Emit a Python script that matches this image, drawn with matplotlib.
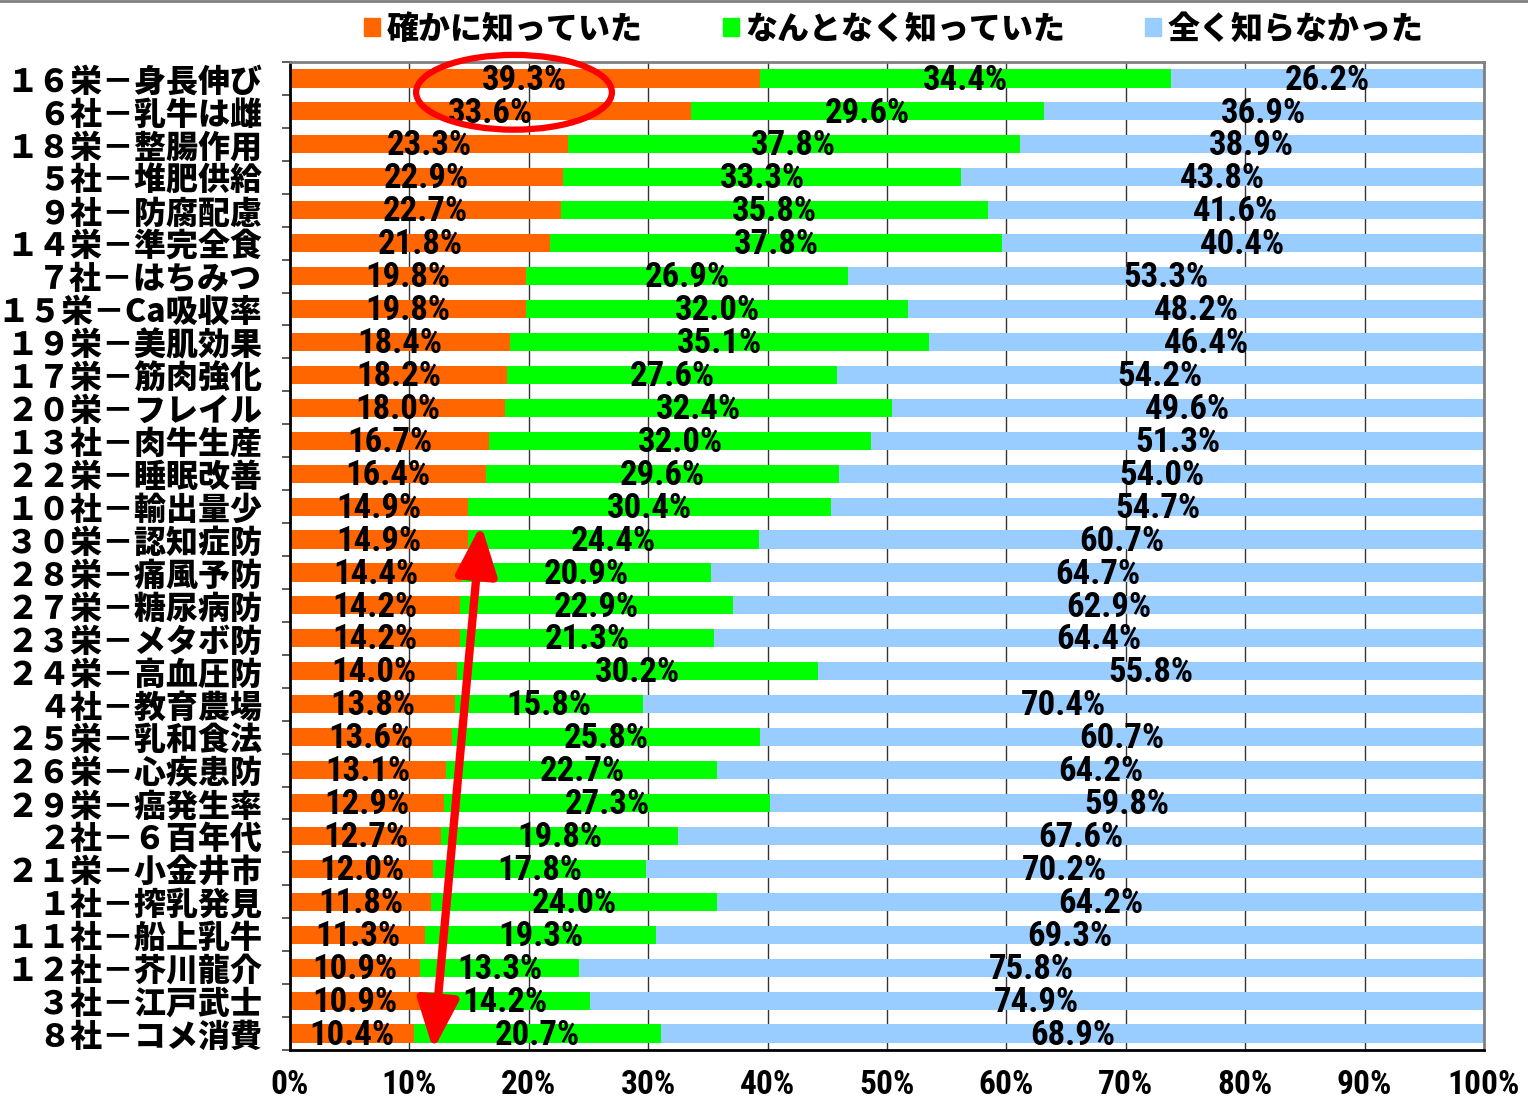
import matplotlib
matplotlib.use("Agg")
import matplotlib.pyplot as plt
from matplotlib import font_manager
from matplotlib.patches import Ellipse, Patch
import numpy as np

plt.rcParams["font.family"] = ["Noto Sans CJK JP", "DejaVu Sans"]

# survey items (top to bottom)
items = [
    "１６栄－身長伸び", "６社－乳牛は雌", "１８栄－整腸作用", "５社－堆肥供給",
    "９社－防腐配慮", "１４栄－準完全食", "７社－はちみつ", "１５栄－Ca吸収率",
    "１９栄－美肌効果", "１７栄－筋肉強化", "２０栄－フレイル", "１３社－肉牛生産",
    "２２栄－睡眠改善", "１０社－輸出量少", "３０栄－認知症防", "２８栄－痛風予防",
    "２７栄－糖尿病防", "２３栄－メタボ防", "２４栄－高血圧防", "４社－教育農場",
    "２５栄－乳和食法", "２６栄－心疾患防", "２９栄－癌発生率", "２社－６百年代",
    "２１栄－小金井市", "１社－搾乳発見", "１１社－船上乳牛", "１２社－芥川龍介",
    "３社－江戸武士", "８社－コメ消費",
]
knew_well = [39.3, 33.6, 23.3, 22.9, 22.7, 21.8, 19.8, 19.8, 18.4, 18.2,
             18.0, 16.7, 16.4, 14.9, 14.9, 14.4, 14.2, 14.2, 14.0, 13.8,
             13.6, 13.1, 12.9, 12.7, 12.0, 11.8, 11.3, 10.9, 10.9, 10.4]
knew_vaguely = [34.4, 29.6, 37.8, 33.3, 35.8, 37.8, 26.9, 32.0, 35.1, 27.6,
                32.4, 32.0, 29.6, 30.4, 24.4, 20.9, 22.9, 21.3, 30.2, 15.8,
                25.8, 22.7, 27.3, 19.8, 17.8, 24.0, 19.3, 13.3, 14.2, 20.7]
did_not_know = [26.2, 36.9, 38.9, 43.8, 41.6, 40.4, 53.3, 48.2, 46.4, 54.2,
                49.6, 51.3, 54.0, 54.7, 60.7, 64.7, 62.9, 64.4, 55.8, 70.4,
                60.7, 64.2, 59.8, 67.6, 70.2, 64.2, 69.3, 75.8, 74.9, 68.9]
series_names = ["確かに知っていた", "なんとなく知っていた", "全く知らなかった"]
colors = ["#FF6600", "#00FF00", "#99CCFF"]
xtick_labels = ["0%", "10%", "20%", "30%", "40%", "50%", "60%", "70%", "80%", "90%", "100%"]

# narrow face for the numbers if one is around
num_font = dict(family="DejaVu Sans")
names = {f.name for f in font_manager.fontManager.ttflist}
condensed = [f for f in font_manager.fontManager.ttflist
             if "Condensed" in f.fname and "Bold" in f.fname]
for cand in ["Liberation Sans Narrow", "Roboto Condensed", "Open Sans Condensed"]:
    if cand in names:
        num_font = dict(family=cand)
        break
else:
    if condensed:
        num_font = dict(fname=condensed[0].fname)
num_prop = font_manager.FontProperties(weight="bold", **num_font)

series = np.array([knew_well, knew_vaguely, did_not_know])
# 100% stacked: each row scaled to its own total
shares = series / series.sum(axis=0) * 100
y = np.arange(len(items))

fig = plt.figure(figsize=(15.28, 11.05), dpi=100)
ax = fig.add_axes([0.1898, 0.0498, 0.7814, 0.8941])

left = np.zeros(len(items))
for k in range(3):
    ax.barh(y, shares[k], left=left, height=0.55, color=colors[k], zorder=2)
    for i in range(len(items)):
        ax.text(left[i] + shares[k][i] / 2, y[i] + 0.05, f"{series[k][i]:.1f}%",
                ha="center", va="center", fontproperties=num_prop, fontsize=25,
                zorder=4)
    left = left + shares[k]

ax.set_xlim(0, 100)
ax.set_ylim(len(items) - 0.5, -0.5)
ax.set_xticks(np.arange(0, 101, 10))
ax.set_xticklabels(xtick_labels)
for t in ax.get_xticklabels():
    t.set_fontproperties(num_prop)
    t.set_fontsize(24)
ax.tick_params(axis="x", length=0, pad=14)
ax.set_yticks(y)
ax.set_yticklabels(items, fontsize=23, fontweight="heavy")
ax.set_yticks(np.arange(len(items) + 1) - 0.5, minor=True)
ax.tick_params(axis="y", which="major", length=0, pad=20)
ax.tick_params(axis="y", which="minor", length=6, width=1.2, color="#404040")
ax.grid(axis="x", color="#333333", linewidth=1.0, zorder=1)
ax.set_axisbelow(True)

for side in ["left", "bottom"]:
    ax.spines[side].set_color("black")
    ax.spines[side].set_linewidth(2)
for side in ["top", "right"]:
    ax.spines[side].set_color("#808080")
    ax.spines[side].set_linewidth(2)

# highlight of the two top items and the downward trend arrow
ax.add_patch(Ellipse((18.76, 0.42), 16.4, 2.27, fill=False, edgecolor="red",
                     linewidth=4.5, clip_on=False, zorder=5))
ax.annotate("", xy=(16.0, 13.55), xytext=(12.0, 29.5),
            arrowprops=dict(arrowstyle="<|-|>,head_length=0.6,head_width=0.25",
                            color="red", lw=6, mutation_scale=50,
                            shrinkA=0, shrinkB=0),
            annotation_clip=False, zorder=5)

handles = [Patch(color=c) for c in colors]
fig.legend(handles, series_names, loc="center", bbox_to_anchor=(0.585, 0.974),
           ncol=3, frameon=False, handlelength=0.5, handleheight=0.5,
           handletextpad=0.2, columnspacing=2.5,
           prop={"size": 23, "weight": "heavy"})

fig.add_artist(plt.Line2D([0, 1], [0.999, 0.999], color="#808080", lw=2,
                          transform=fig.transFigure))

fig.savefig("out.png", dpi=100)
